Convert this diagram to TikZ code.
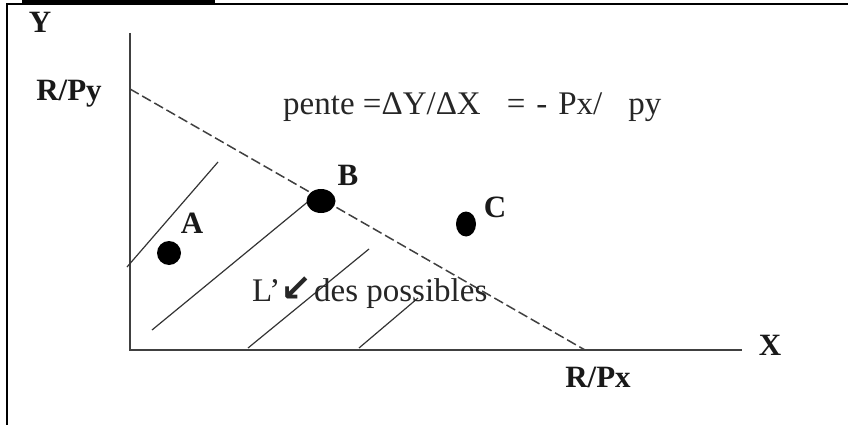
\documentclass[tikz,border=0pt]{standalone}
\usepackage{fontspec}
\setmainfont{Liberation Serif}
\newfontfamily\symfont{DejaVu Sans}
\usetikzlibrary{shapes.geometric}
\begin{document}
\begin{tikzpicture}[x=1pt,y=-1pt,
  lbl/.style={font=\fontsize{31}{33}\selectfont\bfseries, inner sep=0pt, text=black!90},
  txt/.style={font=\fontsize{33}{35}\selectfont, inner sep=0pt, text=black!85},
  frame/.style={line width=2.6pt, black},
  axis/.style={line width=2pt, black!75},
  budget/.style={line width=1.5pt, black!75, dash pattern=on 10pt off 4pt},
  hatch/.style={line width=1.2pt, black!80},
  dot/.style={ellipse, fill=black, inner sep=0pt}]
\useasboundingbox (0,0) rectangle (848,425);
% frame
\fill[black] (22,0) rectangle (215,5);
\draw[frame] (7,425) -- (7,4) -- (848,4);
% axes
\coordinate (O) at (130,350);
\coordinate (Ytop) at (130,33);
\coordinate (Xend) at (742,350);
\draw[axis] (Ytop) -- (O) -- (Xend);
% budget line
\coordinate (Ry) at (130,89);
\coordinate (Rx) at (585,350);
\draw[budget] (Ry) -- (Rx);
% hatch lines
\coordinate (h1a) at (127,267); \coordinate (h1b) at (218,162);
\coordinate (h2a) at (152,330); \coordinate (h2b) at (310,200);
\coordinate (h3a) at (248,348); \coordinate (h3b) at (369,249);
\coordinate (h4a) at (359,348); \coordinate (h4b) at (418,298);
\draw[hatch] (h1a) -- (h1b);
\draw[hatch] (h2a) -- (h2b);
\draw[hatch] (h3a) -- (h3b);
\draw[hatch] (h4a) -- (h4b);
% dots
\node[dot, minimum width=24pt, minimum height=24pt] (A) at (169,253) {};
\node[dot, minimum width=29pt, minimum height=24pt] (B) at (321,201) {};
\node[dot, minimum width=20pt, minimum height=25pt] (C) at (466,224) {};
% labels
\node[lbl] (Ylab) at (40,22) {Y};
\node[lbl] (Xlab) at (770,345) {X};
\node[lbl] (Rpy) at (69,94) {R/Py};
\node[lbl] (Rpx) at (598,377) {R/Px};
\node[lbl] (Alab) at (192,223) {A};
\node[lbl] (Blab) at (348,175) {B};
\node[lbl] (Clab) at (495,207) {C};
\node[txt, anchor=base west] (pente) at (283,114) {pente =ΔY/ΔX\hspace{26pt}=\hspace{11pt}-\hspace{11pt}Px/\hspace{26pt}py};
\node[txt, anchor=base west] (poss) at (252,301) {L’{\symfont\bfseries\fontsize{38}{40}\selectfont ↙}\hspace{2pt}des possibles};
\end{tikzpicture}
\end{document}
